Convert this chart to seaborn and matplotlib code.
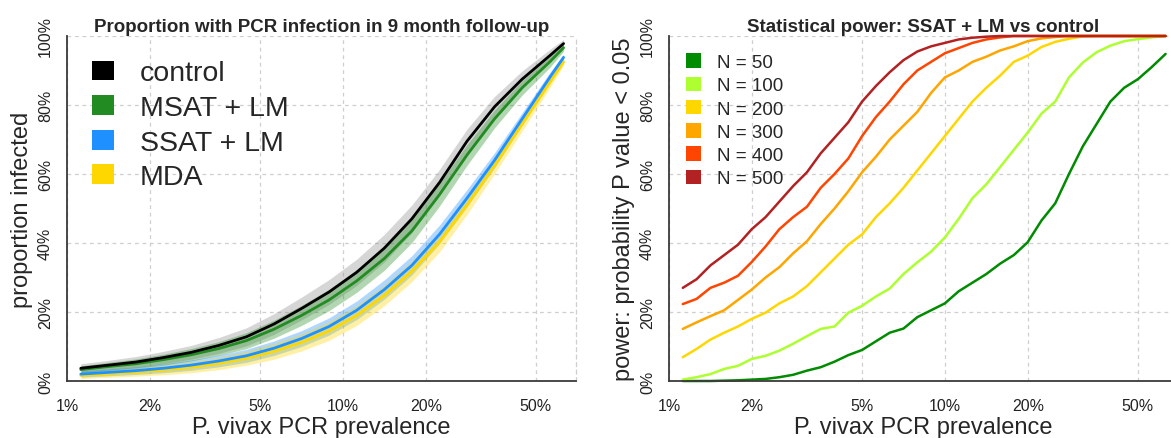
import numpy as np
import pandas as pd
import matplotlib
matplotlib.use("Agg")
import matplotlib.pyplot as plt
import seaborn as sns
from matplotlib.patches import Patch
from matplotlib.ticker import FixedLocator, NullLocator, FuncFormatter

sns.set_style("white")
plt.rcParams['font.family'] = ['Liberation Sans', 'DejaVu Sans']

# ---- left panel: proportion infected (%) ----
prev_left = [1.122, 1.413, 1.778, 2.239, 2.818, 3.548, 4.467, 5.623, 7.079, 8.913,
             11.22, 14.13, 17.78, 22.39, 28.18, 35.48, 44.67, 56.23, 63.10]
control = [3.7, 4.6, 5.5, 6.8, 8.3, 10.3, 12.8, 16.5, 21, 25.8, 31.5, 38.5, 47, 57.5, 69.5, 79.5, 87.5, 94.3, 97.8]
msat = [3.3, 4.2, 5.0, 6.2, 7.6, 9.4, 11.7, 15, 19, 23.5, 29, 35.5, 43.5, 54, 65.5, 76, 85, 92.5, 96.6]
ssat = [2.0, 2.5, 3.0, 3.7, 4.6, 5.8, 7.3, 9.5, 12.3, 15.8, 20.5, 26.5, 33.5, 42.5, 53, 64, 76, 88, 93.8]
mda = [1.6, 2.1, 2.6, 3.2, 4.0, 5.1, 6.6, 8.6, 11.2, 14.5, 19, 24.8, 31.8, 40.3, 51, 62.5, 74.5, 86.5, 92.5]
# half widths of the uncertainty bands
control_hw = [1.3, 1.4, 1.6, 1.8, 2.0, 2.3, 2.6, 3.0, 3.3, 3.6, 3.8, 4.0, 4.0, 3.8, 3.5, 3.0, 2.4, 1.8, 1.2]
msat_hw = [1.1, 1.2, 1.4, 1.6, 1.8, 2.0, 2.3, 2.6, 2.9, 3.1, 3.3, 3.4, 3.4, 3.3, 3.0, 2.6, 2.1, 1.6, 1.0]
ssat_hw = [0.9, 1.0, 1.1, 1.3, 1.5, 1.7, 1.9, 2.1, 2.3, 2.5, 2.7, 2.8, 2.8, 2.7, 2.5, 2.2, 1.8, 1.4, 0.9]
mda_hw = [0.9, 1.0, 1.2, 1.4, 1.6, 1.8, 2.0, 2.3, 2.5, 2.7, 2.9, 3.0, 3.0, 2.9, 2.7, 2.4, 2.0, 1.5, 1.0]

arms = ["control", "MSAT + LM", "SSAT + LM", "MDA"]
arm_colors = ["black", "forestgreen", "dodgerblue", "gold"]
band_colors = [(0.55, 0.55, 0.55, 0.35), (0.13, 0.55, 0.13, 0.35),
               (0.12, 0.56, 1.0, 0.35), (1.0, 0.84, 0.0, 0.35)]

# ---- right panel: statistical power (%) ----
prev_right = [1.122, 1.259, 1.413, 1.585, 1.778, 1.995, 2.239, 2.512, 2.818, 3.162,
              3.548, 3.981, 4.467, 5.012, 5.623, 6.310, 7.079, 7.943, 8.913, 10.0,
              11.22, 12.59, 14.13, 15.85, 17.78, 19.95, 22.39, 25.12, 28.18, 31.62,
              35.48, 39.81, 44.67, 50.12, 56.23, 63.10]
n50 = [0, 0, 0, 0.1, 0.2, 0.4, 0.6, 1.1, 1.8, 3.0, 4.0, 5.6, 7.5, 9.0, 11.5, 14, 15.2, 18.5,
       20.5, 22.5, 26, 28.5, 31, 34, 36.5, 40.2, 46.5, 51.5, 60, 68, 74.5, 81, 85, 87.5, 91, 94.8]
n100 = [0.4, 1.1, 2.0, 3.5, 4.4, 6.4, 7.3, 8.8, 10.8, 13, 15.1, 15.8, 19.8, 21.8, 24.5, 26.8,
        31, 34.4, 37.5, 41.6, 47, 53, 57, 62, 67, 72, 77.5, 81, 88, 92.3, 95.3, 97.2, 98.5,
        99.1, 99.6, 100]
n200 = [6.9, 9.3, 12.0, 14.0, 15.8, 18, 19.8, 22.5, 24.5, 27.5, 31.5, 35.5, 39.5, 42.5, 47.5,
        51.5, 56, 61, 66, 71, 76, 81, 85, 88.5, 92.5, 94.3, 96.8, 98.3, 99.2, 99.9,
        100, 100, 100, 100, 100, 100]
n300 = [15.1, 17, 18.8, 20.5, 23.5, 26.5, 30, 33, 37, 40.5, 45.5, 50, 55, 60.5, 65, 70, 74,
        78, 83.5, 88, 90, 92.5, 94, 95.8, 97, 98.5, 99.3, 99.7, 100,
        100, 100, 100, 100, 100, 100, 100]
n400 = [22.3, 23.8, 27.0, 28.5, 30.5, 34.5, 39, 44, 47.5, 50.5, 56, 60, 64.5, 71, 76.5, 81,
        86, 90, 92.5, 95, 96.5, 98, 99, 99.6, 100,
        100, 100, 100, 100, 100, 100, 100, 100, 100, 100, 100]
n500 = [27.0, 29.5, 33.5, 36.5, 39.5, 44, 47.5, 52, 56.5, 60.5, 66, 70.5, 75, 81, 85.5, 89.5,
        93, 95.5, 97, 98, 99, 99.5, 99.8,
        100, 100, 100, 100, 100, 100, 100, 100, 100, 100, 100, 100, 100]
sizes = ["N = 50", "N = 100", "N = 200", "N = 300", "N = 400", "N = 500"]
size_colors = ["#008B00", "#ADFF2F", "#FFD700", "#FFA500", "#FF4500", "#B22222"]

fig = plt.figure(figsize=(11.71, 4.39), dpi=100)
ax1 = fig.add_axes([0.05722, 0.12984, 0.43467, 0.78588])
ax2 = fig.add_axes([0.57131, 0.12984, 0.43467, 0.78588])

# left panel
df_left = pd.concat([pd.DataFrame({"prev": prev_left, "value": v, "arm": a})
                     for a, v in zip(arms, [control, msat, ssat, mda])])
for v, hw, bc in zip([control, msat, ssat, mda], [control_hw, msat_hw, ssat_hw, mda_hw], band_colors):
    v = np.array(v)
    hw = np.array(hw)
    ax1.fill_between(prev_left, v - hw, v + hw, color=bc, linewidth=0)
sns.lineplot(data=df_left, x="prev", y="value", hue="arm", hue_order=arms[::-1],
             palette=dict(zip(arms, arm_colors)), estimator=None, sort=False,
             linewidth=2.0, legend=False, ax=ax1)

# right panel
df_right = pd.concat([pd.DataFrame({"prev": prev_right, "value": v, "size": s})
                      for s, v in zip(sizes, [n50, n100, n200, n300, n400, n500])])
sns.lineplot(data=df_right, x="prev", y="value", hue="size", hue_order=sizes,
             palette=dict(zip(sizes, size_colors)), estimator=None, sort=False,
             linewidth=1.8, legend=False, ax=ax2)
for ln in ax2.lines:
    ln.set_clip_on(False)

titles = ["Proportion with PCR infection in 9 month follow-up",
          "Statistical power: SSAT + LM vs control"]
ylabels = ["proportion infected", "power: probability P value < 0.05"]
spine_col = "#3a3a3a"
for ax, title, yl in zip([ax1, ax2], titles, ylabels):
    ax.set_xscale("log")
    ax.set_xlim(1, 70)
    ax.set_ylim(0, 100)
    ax.xaxis.set_major_locator(FixedLocator([1, 2, 5, 10, 20, 50]))
    ax.xaxis.set_minor_locator(NullLocator())
    ax.xaxis.set_major_formatter(FuncFormatter(lambda v, p: f"{v:g}%"))
    ax.yaxis.set_major_locator(FixedLocator([0, 20, 40, 60, 80, 100]))
    ax.yaxis.set_major_formatter(FuncFormatter(lambda v, p: f"{v:g}%"))
    ax.grid(True, color="#cfcfcf", linestyle=(0, (3, 3)), linewidth=0.9)
    ax.set_axisbelow(True)
    for side in ["left", "bottom"]:
        ax.spines[side].set_color(spine_col)
        ax.spines[side].set_linewidth(1.3)
    ax.spines["top"].set_visible(False)
    ax.spines["right"].set_color("#cfcfcf")
    ax.spines["right"].set_linestyle((0, (3, 3)))
    ax.spines["right"].set_linewidth(0.9)
    ax.tick_params(axis="both", direction="out", length=8.5, width=1.1, color=spine_col,
                   labelsize=11.5, labelcolor="#222222")
    ax.tick_params(axis="x", pad=4)
    ax.tick_params(axis="y", pad=1.5)
    for lab in ax.get_yticklabels():
        lab.set_rotation(90)
        lab.set_va("center")
    ax.set_xlabel("P. vivax PCR prevalence", fontsize=17)
    ax.set_ylabel(yl, fontsize=17)
    ax.xaxis.set_label_coords(0.5, -0.133)
    ax.xaxis.label.set_va("center")
    ax.yaxis.set_label_coords(-0.088, 0.5)
    ax.yaxis.label.set_va("center")
    ax.text(0.5, 1.028, title, transform=ax.transAxes, ha="center", va="center",
            fontsize=13.5, fontweight="bold")

h1 = [Patch(facecolor=c, edgecolor="none") for c in arm_colors]
ax1.legend(h1, arms, loc="upper left", bbox_to_anchor=(0.049, 0.929), frameon=False,
           fontsize=20.5, handlelength=0.77, handleheight=0.7, handletextpad=0.91,
           labelspacing=0.3, borderpad=0, borderaxespad=0)
h2 = [Patch(facecolor=c, edgecolor="none") for c in size_colors]
ax2.legend(h2, sizes, loc="upper left", bbox_to_anchor=(0.0334, 0.950), frameon=False,
           fontsize=13.5, handlelength=0.8, handleheight=0.8, handletextpad=0.85,
           labelspacing=0.3, borderpad=0, borderaxespad=0)

fig.savefig("out.png", dpi=100)
